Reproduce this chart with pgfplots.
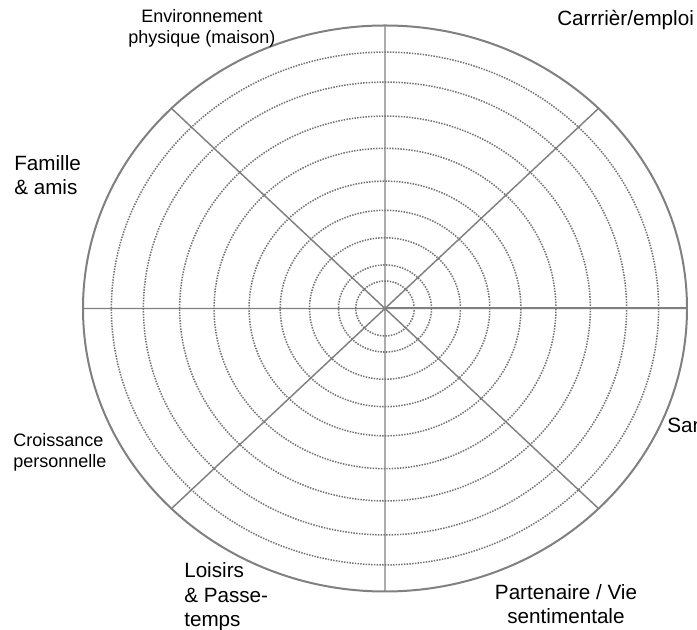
\documentclass[border=0pt]{standalone}
\usepackage{fontspec}
\setmainfont{Liberation Sans}
\usepackage{pgfplots}
\pgfplotsset{compat=1.18}
\usepgfplotslibrary{polar}
\definecolor{wheelgray}{RGB}{128,128,128}
\definecolor{dotgray}{RGB}{115,115,115}
\begin{document}
\begin{tikzpicture}
\useasboundingbox (0,0) rectangle (522.75pt,472.5pt);
\clip (0,0) rectangle (522.75pt,472.5pt);
\begin{polaraxis}[
  at={(288.75pt,241.125pt)}, anchor=center,
  scale only axis, width=453pt, height=424.5pt, scale mode=stretch to fill,
  xmin=0, xmax=360, ymin=0, ymax=1,
  xtick={0,45,...,315},
  ytick={0.097,0.154,0.25,0.347,0.45,0.566,0.68,0.80,0.906},
  xticklabels={}, yticklabels={},
  major tick length=0pt,
  grid=major,
  x grid style={wheelgray, line width=1.1pt, solid},
  y grid style={dotgray, line width=1.15pt, dash pattern=on 1.1pt off 0.95pt},
  axis line style={wheelgray, line width=1.5pt},
]
\end{polaraxis}
\tikzset{
  lbl/.style={inner sep=0pt, font=\fontsize{15.5}{18.4}\selectfont},
  slbl/.style={inner sep=0pt, font=\fontsize{13.5}{16}\selectfont}}
\node[slbl, anchor=north, align=center] at (151.5pt,465.75pt) {Environnement\\physique (maison)};
\node[lbl, anchor=north west, align=left] at (417.75pt,465pt) {Carrrièr/emploi};
\node[lbl, anchor=north west, align=left] at (10.5pt,356.25pt) {Famille\\\& amis};
\node[slbl, anchor=north west, align=left] at (9.75pt,147.75pt) {Croissance\\personnelle};
\node[lbl, anchor=north west, align=left] at (138pt,50.5pt) {Loisirs\\\& Passe-\\temps};
\node[lbl, anchor=north, align=center] at (424.5pt,34.5pt) {Partenaire / Vie\\sentimentale};
\node[lbl, anchor=north west, align=left] at (500.25pt,160pt) {Santé};
\end{tikzpicture}
\end{document}
